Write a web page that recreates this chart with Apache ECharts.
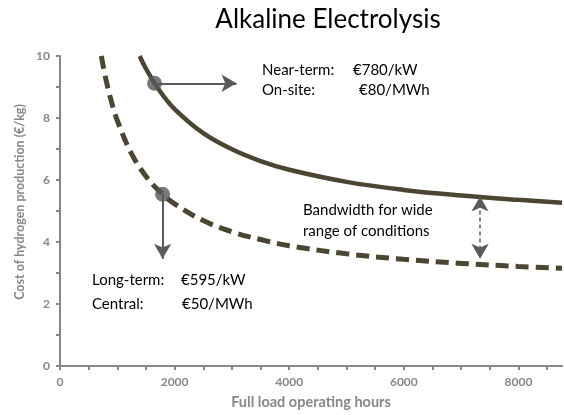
<!DOCTYPE html>
<html>
<head>
<meta charset="utf-8">
<script src="https://cdn.jsdelivr.net/npm/echarts@6/dist/echarts.min.js"></script>
<style>
  html, body { margin: 0; padding: 0; background: #fff; }
  #chart { width: 564px; height: 415px; }
</style>
</head>
<body>
<div id="chart"></div>
<script>
// Full load operating hours and the matching hydrogen cost (€/kg)
const nearTermHours = [1391, 1500, 1750, 2000, 2500, 3000, 3500, 4000, 5000, 6000, 7000, 8000, 8760];
const nearTermCost  = [10.0, 9.59, 8.85, 8.29, 7.51, 6.99, 6.61, 6.33, 5.94, 5.68, 5.50, 5.36, 5.27];

const longTermHours = [721, 800, 900, 1000, 1250, 1500, 1750, 2000, 2500, 3000, 3500, 4000, 5000, 6000, 7000, 8000, 8760];
const longTermCost  = [10.0, 9.26, 8.51, 7.92, 6.84, 6.12, 5.61, 5.23, 4.69, 4.33, 4.08, 3.88, 3.62, 3.44, 3.31, 3.21, 3.15];

// Highlighted points on each curve
const nearTermDot = [1650, 9.12];
const longTermDot = [1790, 5.54];

// Arrow ends (hours, €/kg)
const nearArrowEnd = [3080, 9.12];
const longArrowEnd = [1790, 3.46];
const bandTop = [7330, 5.47];
const bandBottom = [7330, 3.46];

const xTicks = [0, 2000, 4000, 6000, 8000];
const yTicks = [0, 2, 4, 6, 8, 10];

const curveColor = '#4a4631';
const arrowColor = '#5a5a5a';
const axisGrey = '#878787';
const font = 'Lato, "Open Sans", sans-serif';

const pairs = (xs, ys) => xs.map((x, i) => [x, ys[i]]);

const chart = echarts.init(document.getElementById('chart'));
chart.setOption({
  animation: false,
  backgroundColor: '#fff',
  grid: { left: 60, right: 2, top: 56, bottom: 47 },
  title: {
    text: 'Alkaline Electrolysis',
    left: 323, top: 2, textAlign: 'center',
    textStyle: { fontFamily: font, fontSize: 26, fontWeight: 'normal', color: '#000' }
  },
  xAxis: {
    type: 'value', min: 0, max: 8760, interval: 500,
    name: 'Full load operating hours', nameLocation: 'middle', nameGap: 29,
    nameTextStyle: { fontFamily: font, fontSize: 14.5, fontWeight: 'bold', color: axisGrey },
    axisLine: { lineStyle: { color: axisGrey, width: 2 } },
    axisTick: { show: true, length: 4, lineStyle: { color: axisGrey, width: 2 } },
    splitLine: { show: false },
    axisLabel: {
      fontFamily: font, fontSize: 12, fontWeight: 'bold', color: axisGrey, margin: 10,
      showMaxLabel: false,
      formatter: v => xTicks.includes(v) ? String(v) : ''
    }
  },
  yAxis: {
    type: 'value', min: 0, max: 10, interval: 1,
    axisLine: { show: true, lineStyle: { color: axisGrey, width: 2 } },
    axisTick: { show: true, length: 4, lineStyle: { color: axisGrey, width: 2 } },
    splitLine: { show: false },
    axisLabel: {
      fontFamily: font, fontSize: 12, fontWeight: 'bold', color: axisGrey, margin: 10,
      formatter: v => yTicks.includes(v) ? String(v) : ''
    }
  },
  series: [
    {
      type: 'line', data: pairs(nearTermHours, nearTermCost), smooth: 0.4,
      showSymbol: false, lineStyle: { color: curveColor, width: 4.5 }, z: 2,
      markLine: {
        silent: true, symbol: ['none', 'arrow'], symbolSize: [13, 15],
        label: { show: false },
        lineStyle: { color: arrowColor, width: 2, type: 'solid' },
        data: [[{ coord: nearTermDot }, { coord: nearArrowEnd }]]
      }
    },
    {
      type: 'line', data: pairs(longTermHours, longTermCost), smooth: 0.4,
      showSymbol: false, lineStyle: { color: curveColor, width: 5, type: [13, 7] }, z: 2,
      markLine: {
        silent: true, symbol: ['none', 'arrow'], symbolSize: [13, 15],
        label: { show: false },
        lineStyle: { color: arrowColor, width: 2, type: 'solid' },
        data: [[{ coord: longTermDot }, { coord: longArrowEnd }]]
      }
    },
    {
      type: 'line', data: [], showSymbol: false,
      markLine: {
        silent: true, symbol: ['arrow', 'arrow'], symbolSize: [13, 15],
        label: { show: false },
        lineStyle: { color: arrowColor, width: 1.5, type: [4, 3] },
        data: [[{ coord: bandTop }, { coord: bandBottom }]]
      }
    },
    {
      type: 'scatter', data: [nearTermDot, longTermDot], symbolSize: 15,
      itemStyle: { color: '#58585a' }, z: 5
    }
  ],
  graphic: [
    {
      type: 'text', x: 20, y: 202, rotation: Math.PI / 2,
      style: {
        text: 'Cost of hydrogen production (€/kg)', font: 'bold 12.5px ' + font,
        fill: axisGrey, align: 'center', verticalAlign: 'middle'
      }
    },
    { type: 'text', left: 262, top: 63, style: { text: 'Near-term:', font: '15px ' + font, fill: '#000' } },
    { type: 'text', left: 353, top: 63, style: { text: '€780/kW', font: '15px ' + font, fill: '#000' } },
    { type: 'text', left: 262, top: 83, style: { text: 'On-site:', font: '15px ' + font, fill: '#000' } },
    { type: 'text', left: 359, top: 83, style: { text: '€80/MWh', font: '15px ' + font, fill: '#000' } },
    { type: 'text', left: 92, top: 273, style: { text: 'Long-term:', font: '15px ' + font, fill: '#000' } },
    { type: 'text', left: 181, top: 273, style: { text: '€595/kW', font: '15px ' + font, fill: '#000' } },
    { type: 'text', left: 92, top: 297, style: { text: 'Central:', font: '15px ' + font, fill: '#000' } },
    { type: 'text', left: 182, top: 297, style: { text: '€50/MWh', font: '15px ' + font, fill: '#000' } },
    { type: 'text', left: 303, top: 203, style: { text: 'Bandwidth for wide', font: '15px ' + font, fill: '#000' } },
    { type: 'text', left: 303, top: 224, style: { text: 'range of conditions', font: '15px ' + font, fill: '#000' } }
  ]
});
</script>
</body>
</html>
